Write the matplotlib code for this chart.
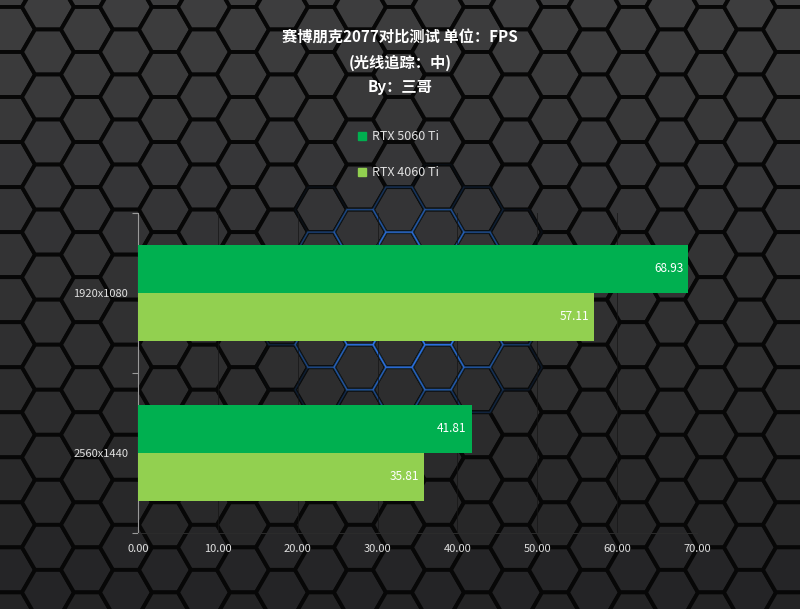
import numpy as np
import matplotlib
matplotlib.use('Agg')
import matplotlib.pyplot as plt
from matplotlib.collections import PolyCollection
from matplotlib.patches import Rectangle

plt.rcParams['font.family'] = ['Noto Sans CJK SC', 'DejaVu Sans']

categories = ['1920x1080', '2560x1440']
series_names = ['RTX 5060 Ti', 'RTX 4060 Ti']
rtx5060ti = [68.93, 41.81]
rtx4060ti = [57.11, 35.81]
x_ticks = [0, 10, 20, 30, 40, 50, 60, 70]
colors = ['#00b050', '#92d050']
title_lines = ['赛博朋克2077对比测试 单位：FPS', '(光线追踪：中)', 'By：三哥']

W, H = 800, 609
fig = plt.figure(figsize=(W / 100, H / 100), dpi=100)

# hexagon background (pixel coords)
bg = fig.add_axes([0, 0, 1, 1])
bg.set_xlim(0, W)
bg.set_ylim(H, 0)
bg.axis('off')

R = 26
dx = 1.5 * R
dy = np.sqrt(3) * R
ang = np.deg2rad(np.arange(0, 360, 60))
hexes, faces, halos, glows = [], [], [], []
for i in range(-1, int(W / dx) + 2):
    cx = 48 + i * dx
    off = dy / 2 if i % 2 else 0
    for j in range(-2, int(H / dy) + 2):
        cy = 52 + j * dy + off
        hexes.append(np.column_stack([cx + R * np.cos(ang), cy + R * np.sin(ang)]))
        t = np.clip(cy / H, 0, 1)
        g = 0.24 - 0.1 * t
        faces.append((g, g, g + 0.005))
        d = np.hypot((cx - 405) / 145, (cy - 305) / 125)
        a = float(np.clip(1 - d, 0, 1))
        halos.append((0.10, 0.22, 0.30, min(1, a * 1.6)))
        glows.append((0.18, 0.45, 0.95, min(1, a * 1.3)))

bg.add_collection(PolyCollection(hexes, facecolors=faces, edgecolors='#070707', linewidths=2.8))
bg.add_collection(PolyCollection(hexes, facecolors='none', edgecolors=halos, linewidths=2.0))
bg.add_collection(PolyCollection(hexes, facecolors='none', edgecolors=glows, linewidths=0.8))
fig.patch.set_facecolor('#2a2a2a')

# titles
for k, line in enumerate(title_lines):
    fig.text(0.5, 1 - (38 + 24.5 * k) / H, line, ha='center', va='center',
             fontsize=11, fontweight='bold', color='white')

# legend
for k, name in enumerate(series_names):
    yy = 136 + 36 * k
    bg.add_patch(Rectangle((358, yy - 4), 8, 8, color=colors[k]))
    bg.text(372, yy, name, ha='left', va='center', fontsize=9, color='#e0e0e0')

# chart
ax = fig.add_axes([138 / W, 1 - 533 / H, (697 - 138) / W, 320 / H])
ax.patch.set_alpha(0)
y = np.arange(len(categories))
h = 0.295
ax.barh(y - 0.15, rtx5060ti, height=h, color=colors[0], zorder=3)
ax.barh(y + 0.15, rtx4060ti, height=h, color=colors[1], zorder=3)
for vals, off in ((rtx5060ti, -0.15), (rtx4060ti, 0.15)):
    for yi, v in zip(y, vals):
        ax.text(v - 0.65, yi + off, f'{v:.2f}', ha='right', va='center',
                fontsize=8.5, color='white', zorder=4)

ax.set_xlim(0, 70)
ax.set_ylim(1.5, -0.5)
ax.set_xticks(x_ticks)
ax.set_xticklabels([f'{t:.2f}' for t in x_ticks])
ax.set_yticks(y)
ax.set_yticklabels(categories)
ax.set_yticks([-0.5, 0.5, 1.5], minor=True)
ax.tick_params(axis='x', length=0, pad=8, labelsize=8, labelcolor='#e0e0e0')
ax.tick_params(axis='y', which='major', length=0, pad=7, labelsize=8, labelcolor='#e0e0e0')
ax.tick_params(axis='y', which='minor', length=4, color='#9a9a9a', width=0.8)
ax.grid(axis='x', color='#151515', alpha=0.7, lw=0.7, zorder=0)
for s in ('top', 'right'):
    ax.spines[s].set_visible(False)
ax.spines['bottom'].set_color('#2c2c2c')
ax.spines['bottom'].set_linewidth(0.7)
ax.spines['left'].set_color('#9a9a9a')
ax.spines['left'].set_linewidth(0.8)

fig.savefig('out.png', dpi=100, facecolor=fig.get_facecolor())
